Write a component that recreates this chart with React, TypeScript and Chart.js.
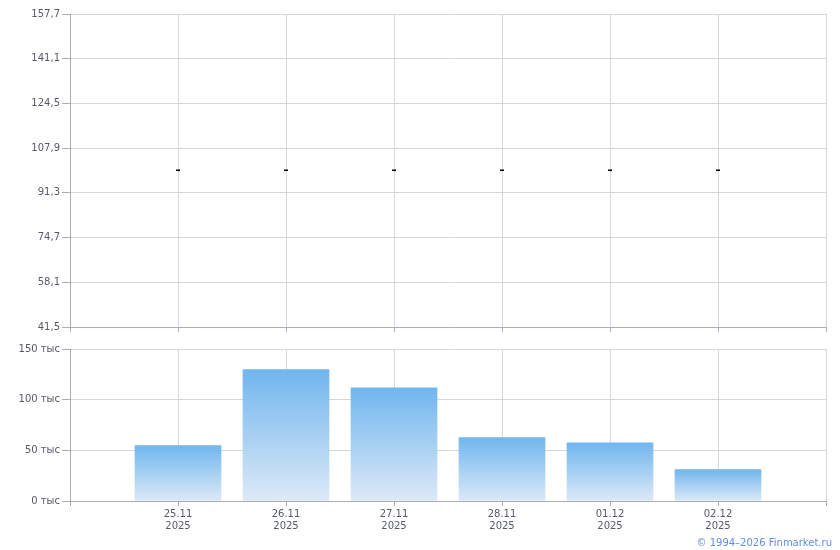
import React, { useEffect, useRef } from "react";
import { Chart, registerables } from "chart.js";

Chart.register(...registerables);

const dates = ["25.11", "26.11", "27.11", "28.11", "01.12", "02.12"];
const years = ["2025", "2025", "2025", "2025", "2025", "2025"];
const prices = [99.7, 99.7, 99.7, 99.7, 99.7, 99.7];
const volumes = [54600, 129600, 111800, 62500, 57500, 30900];
const priceTicks = [41.5, 58.1, 74.7, 91.3, 107.9, 124.5, 141.1, 157.7];
const volumeTicks = [0, 50000, 100000, 150000];

const FONT = { family: "Verdana, 'DejaVu Sans', sans-serif", size: 10 };
const GRID = "#d3d8dc";
const AXIS = "#a9adb6";
const LABEL = "#555a66";

const xScaleBase = (showLabels: boolean, height: number) => ({
  type: "linear" as const,
  min: 0,
  max: dates.length + 1,
  offset: false,
  afterBuildTicks: (scale: any) => {
    const t = [];
    for (let i = 0; i <= dates.length + 1; i++) t.push({ value: i });
    scale.ticks = t;
  },
  afterFit: (scale: any) => {
    scale.height = height;
  },
  grid: { color: GRID, tickColor: AXIS, tickLength: 5, drawOnChartArea: true, offset: false },
  border: { color: AXIS, width: 1 },
  ticks: {
    display: showLabels,
    autoSkip: false,
    maxRotation: 0,
    font: FONT,
    color: LABEL,
    padding: 2,
    callback: (v: any) => {
      const i = Math.round(Number(v)) - 1;
      if (i < 0 || i >= dates.length) return "";
      return [dates[i], years[i]];
    },
  },
});

export default function App() {
  const topRef = useRef<HTMLCanvasElement>(null);
  const botRef = useRef<HTMLCanvasElement>(null);

  useEffect(() => {
    const top = new Chart(topRef.current!, {
      type: "scatter",
      data: {
        datasets: [
          {
            data: prices.map((p, i) => ({ x: i + 1, y: p })),
            pointStyle: "line",
            radius: 2,
            borderWidth: 1.5,
            borderColor: "#000",
            backgroundColor: "#000",
          } as any,
        ],
      },
      options: {
        animation: false,
        responsive: false,
        maintainAspectRatio: false,
        layout: { padding: { top: 14, right: 14, left: 0, bottom: 0 } },
        plugins: { legend: { display: false }, tooltip: { enabled: false } },
        scales: {
          x: xScaleBase(false, 13) as any,
          y: {
            min: priceTicks[0],
            max: priceTicks[priceTicks.length - 1],
            afterBuildTicks: (scale: any) => {
              scale.ticks = priceTicks.map((v) => ({ value: v }));
            },
            afterFit: (scale: any) => {
              scale.width = 70;
            },
            grid: { color: GRID, tickColor: AXIS, tickLength: 8 },
            border: { color: AXIS, width: 1 },
            ticks: {
              font: FONT,
              color: LABEL,
              padding: 2,
              callback: (v: any) => Number(v).toFixed(1).replace(".", ","),
            },
          },
        },
      },
    });

    const bot = new Chart(botRef.current!, {
      type: "bar",
      data: {
        datasets: [
          {
            data: volumes.map((v, i) => ({ x: i + 1, y: v })),
            barThickness: 86,
            borderWidth: 0,
            backgroundColor: (ctx: any) => {
              const chart = ctx.chart;
              const ys = chart.scales && chart.scales.y;
              const raw = ctx.raw;
              if (!ys || !raw) return "#8cc3f0";
              const y0 = ys.getPixelForValue(raw.y);
              const y1 = ys.getPixelForValue(0);
              if (!isFinite(y0) || !isFinite(y1) || y0 === y1) return "#8cc3f0";
              const g = chart.ctx.createLinearGradient(0, y0, 0, y1);
              g.addColorStop(0, "#70b6ee");
              g.addColorStop(1, "#dde9f7");
              return g;
            },
          } as any,
        ],
      },
      options: {
        animation: false,
        responsive: false,
        maintainAspectRatio: false,
        layout: { padding: { top: 9, right: 14, left: 0, bottom: 0 } },
        plugins: { legend: { display: false }, tooltip: { enabled: false } },
        scales: {
          x: xScaleBase(true, 49) as any,
          y: {
            min: 0,
            max: volumeTicks[volumeTicks.length - 1],
            afterBuildTicks: (scale: any) => {
              scale.ticks = volumeTicks.map((v) => ({ value: v }));
            },
            afterFit: (scale: any) => {
              scale.width = 70;
            },
            grid: { color: GRID, tickColor: AXIS, tickLength: 8 },
            border: { color: AXIS, width: 1 },
            ticks: {
              font: FONT,
              color: LABEL,
              padding: 2,
              callback: (v: any) => `${Math.round(Number(v) / 1000)} тыс`,
            },
          },
        },
      },
    });

    return () => {
      top.destroy();
      bot.destroy();
    };
  }, []);

  return (
    <div style={{ position: "absolute", left: 0, top: 0, width: 840, height: 550, background: "#fff" }}>
      <canvas
        ref={topRef}
        width={840}
        height={340}
        style={{ position: "absolute", left: 0, top: 0, width: 840, height: 340 }}
      />
      <canvas
        ref={botRef}
        width={840}
        height={210}
        style={{ position: "absolute", left: 0, top: 340, width: 840, height: 210 }}
      />
      <div
        style={{
          position: "absolute",
          right: 8,
          top: 537,
          fontFamily: "Verdana, 'DejaVu Sans', sans-serif",
          fontSize: 10,
          color: "#5f8ee0",
          whiteSpace: "nowrap",
          lineHeight: "12px",
        }}
      >
        © 1994–2026 Finmarket.ru
      </div>
    </div>
  );
}
